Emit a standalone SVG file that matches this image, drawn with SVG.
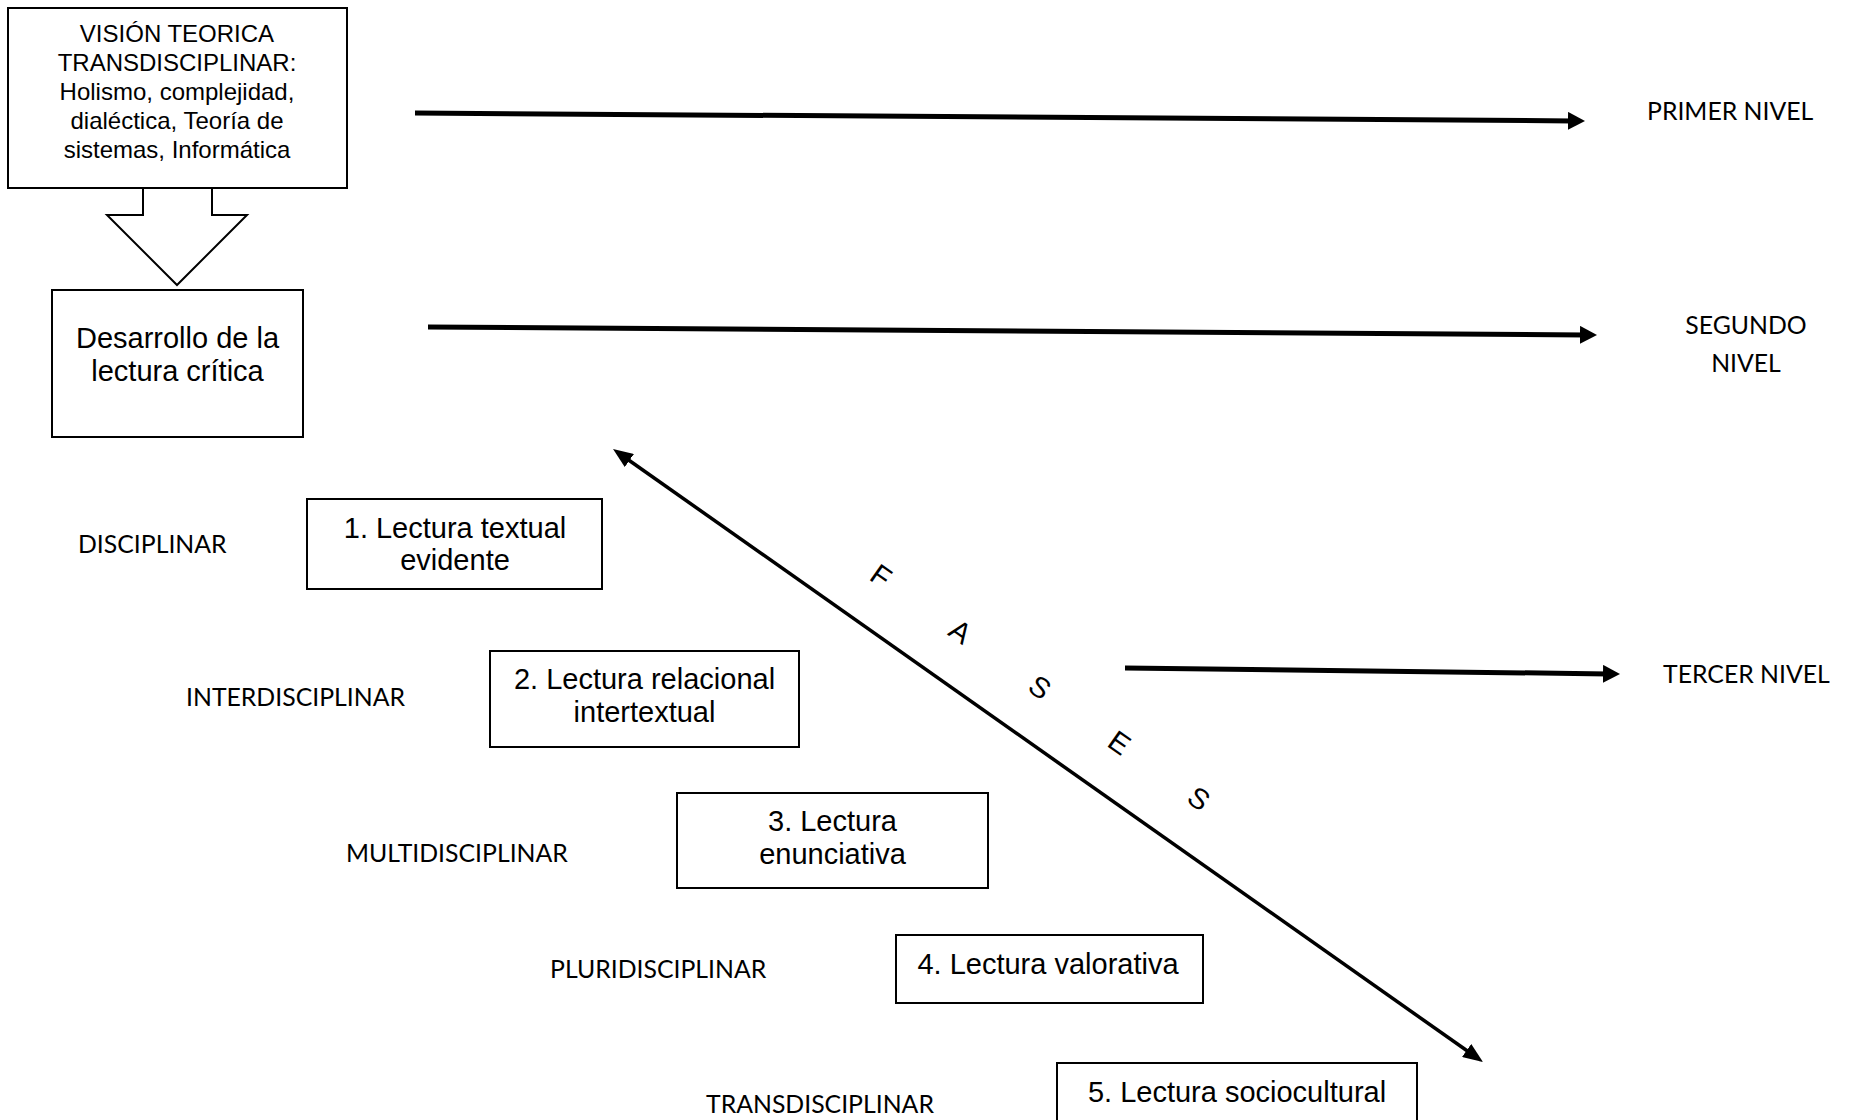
<svg xmlns="http://www.w3.org/2000/svg" width="1853" height="1120" viewBox="0 0 1853 1120">
<defs>
<style>
.box{fill:#fff;stroke:#000;stroke-width:2}
.ar{font-family:"Liberation Sans",Arial,sans-serif;fill:#000;text-anchor:middle}
.cal{font-family:Lato,"Open Sans",sans-serif;fill:#000;font-size:24.8px}
.thick{stroke:#000;stroke-width:5;fill:none}
.thin{stroke:#000;stroke-width:3.5;fill:none}
.fases{font-family:"Liberation Sans",Arial,sans-serif;font-size:29px;fill:#000;text-anchor:middle;dominant-baseline:central}
</style>
<marker id="hb" markerUnits="userSpaceOnUse" markerWidth="17" markerHeight="18" refX="5" refY="9" orient="auto">
<path d="M0,0 L17,9 L0,18 z" fill="#000"/>
</marker>
<marker id="hd" markerUnits="userSpaceOnUse" markerWidth="20" markerHeight="16" refX="4" refY="8" orient="auto-start-reverse">
<path d="M0,0 L20,8 L0,16 z" fill="#000"/>
</marker>
</defs>
<rect width="1853" height="1120" fill="#fff"/>

<g id="vision">
<rect class="box" x="8" y="8" width="339" height="180"/>
<text class="ar" font-size="24" x="177"><tspan x="177" y="42">VISIÓN TEORICA</tspan><tspan x="177" y="71">TRANSDISCIPLINAR:</tspan><tspan x="177" y="100">Holismo, complejidad,</tspan><tspan x="177" y="129">dialéctica, Teoría de</tspan><tspan x="177" y="158">sistemas, Informática</tspan></text>
</g>

<g id="block-arrow">
<polygon points="143,188 143,215 107,215 177,285 247,215 212,215 212,188" fill="#fff" stroke="#000" stroke-width="2"/>
</g>

<g id="desarrollo">
<rect class="box" x="52" y="290" width="251" height="147"/>
<text class="ar" font-size="29"><tspan x="177.5" y="348">Desarrollo de la</tspan><tspan x="177.5" y="381">lectura crítica</tspan></text>
</g>

<g id="fase1">
<rect class="box" x="307" y="499" width="295" height="90"/>
<text class="ar" font-size="29"><tspan x="455" y="538">1. Lectura textual</tspan><tspan x="455" y="570">evidente</tspan></text>
</g>
<g id="fase2">
<rect class="box" x="490" y="651" width="309" height="96"/>
<text class="ar" font-size="29"><tspan x="644.5" y="689">2. Lectura relacional</tspan><tspan x="644.5" y="722">intertextual</tspan></text>
</g>
<g id="fase3">
<rect class="box" x="677" y="793" width="311" height="95"/>
<text class="ar" font-size="29"><tspan x="832.5" y="831">3. Lectura</tspan><tspan x="832.5" y="864">enunciativa</tspan></text>
</g>
<g id="fase4">
<rect class="box" x="896" y="935" width="307" height="68"/>
<text class="ar" font-size="29" x="1048" y="974">4. Lectura valorativa</text>
</g>
<g id="fase5">
<rect class="box" x="1057" y="1063" width="360" height="80"/>
<text class="ar" font-size="29" x="1237" y="1102">5. Lectura sociocultural</text>
</g>

<g id="labels">
<text class="cal" x="78" y="553">DISCIPLINAR</text>
<text class="cal" x="186" y="706">INTERDISCIPLINAR</text>
<text class="cal" x="346" y="862">MULTIDISCIPLINAR</text>
<text class="cal" x="550" y="978">PLURIDISCIPLINAR</text>
<text class="cal" x="706" y="1113">TRANSDISCIPLINAR</text>
</g>

<g id="niveles">
<text class="cal" x="1647" y="120">PRIMER NIVEL</text>
<text class="cal" text-anchor="middle"><tspan x="1746" y="334">SEGUNDO</tspan><tspan x="1746" y="372">NIVEL</tspan></text>
<text class="cal" x="1663" y="683">TERCER NIVEL</text>
</g>

<g id="connectors">
<line class="thick" x1="415" y1="113" x2="1573" y2="120.9" marker-end="url(#hb)"/>
<line class="thick" x1="428" y1="327" x2="1585" y2="334.9" marker-end="url(#hb)"/>
<line class="thick" x1="1125" y1="668" x2="1608" y2="673.9" marker-end="url(#hb)"/>
<line class="thin" x1="626.1" y1="458.2" x2="1469.9" y2="1052.8" marker-start="url(#hd)" marker-end="url(#hd)"/>
</g>

<g id="fases-label">
<text class="fases" transform="translate(881,576) rotate(35)"><tspan x="0" y="0">F</tspan><tspan x="97" y="0">A</tspan><tspan x="194" y="0">S</tspan><tspan x="291" y="0">E</tspan><tspan x="388" y="0">S</tspan></text>
</g>
</svg>
